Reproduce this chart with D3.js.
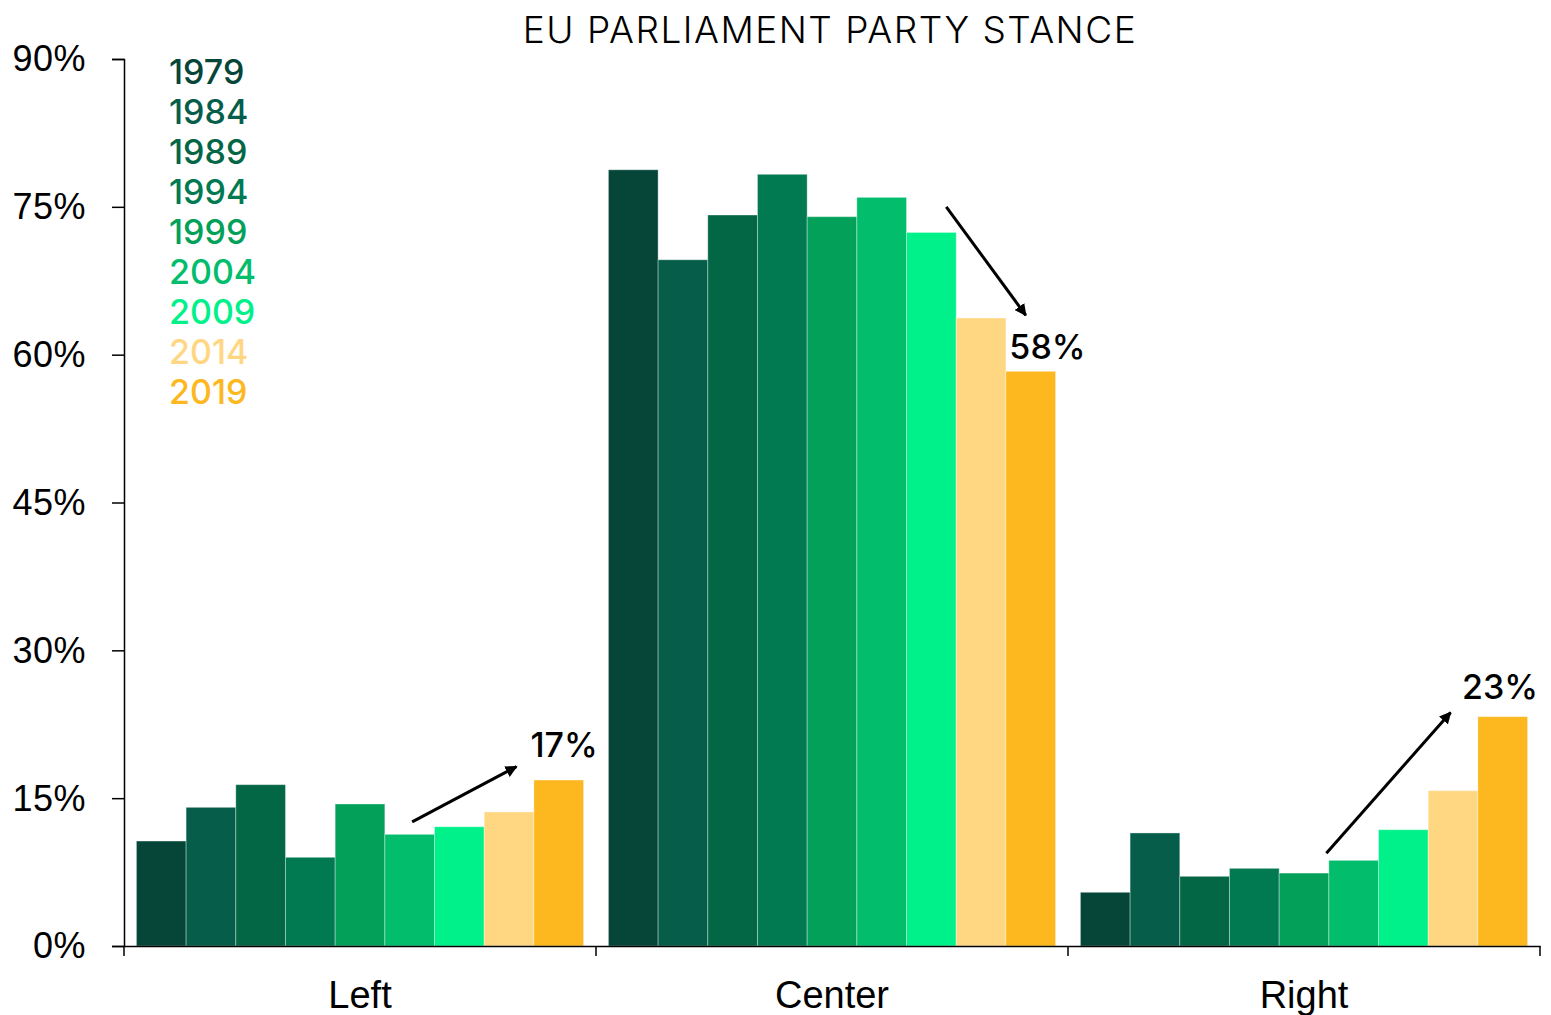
<!DOCTYPE html>
<html>
<head>
<meta charset="utf-8">
<script src="https://cdn.jsdelivr.net/npm/d3@7/dist/d3.min.js"></script>
<style>
  html, body { margin: 0; padding: 0; background: #fff; }
  svg { display: block; font-family: Inter, "Noto Sans", sans-serif; }
</style>
</head>
<body>
<svg id="chart" width="1551" height="1015"></svg>
<script>
const categories = ["Left", "Center", "Right"];
const years = ["1979", "1984", "1989", "1994", "1999", "2004", "2009", "2014", "2019"];
const leftValues   = [10.65, 14.07, 16.37, 9.0, 14.41, 11.33, 12.1, 13.6, 16.84];
const centerValues = [78.76, 69.63, 74.17, 78.3, 74.0, 75.96, 72.4, 63.72, 58.31];
const rightValues  = [5.45, 11.47, 7.07, 7.88, 7.4, 8.69, 11.8, 15.76, 23.27];
const yearColors = ["#054639", "#065e4a", "#036645", "#017a52", "#03a05a", "#02bd6c", "#00f08a", "#ffd783", "#fdb71f"];
const yTicks = [0, 15, 30, 45, 60, 75, 90];
const annotationLabels = ["17%", "58%", "23%"];
const seriesByCategory = { Left: leftValues, Center: centerValues, Right: rightValues };

const svg = d3.select("#chart");
const margin = { left: 124, right: 11, top: 59, bottom: 69 };
const W = 1551, H = 1015;
const x0 = d3.scaleBand().domain(categories).range([margin.left, W - margin.right]).padding(0);
const x1 = d3.scaleBand().domain(years).range([0, x0.bandwidth()]).paddingInner(0).paddingOuter(0.25);
const y = d3.scaleLinear().domain([0, 90]).range([H - margin.bottom, margin.top]);
const color = d3.scaleOrdinal().domain(years).range(yearColors);

// bars
const groups = svg.append("g").selectAll("g").data(categories).join("g")
  .attr("transform", d => `translate(${x0(d)},0)`);
groups.selectAll("rect")
  .data(c => years.map((yr, i) => ({ yr, v: seriesByCategory[c][i] })))
  .join("rect")
  .attr("x", d => x1(d.yr))
  .attr("y", d => y(d.v))
  .attr("width", x1.bandwidth())
  .attr("height", d => y(0) - y(d.v))
  .attr("fill", d => color(d.yr))
  .attr("stroke", "rgba(255,255,255,0.35)")
  .attr("stroke-width", 1);

// y axis
const yAxis = d3.axisLeft(y).tickValues(yTicks).tickFormat(d => d + "%").tickSize(12).tickPadding(26);
const gy = svg.append("g").attr("transform", `translate(${margin.left},0)`).call(yAxis);
gy.select(".domain").attr("stroke", "#000").attr("stroke-width", 1.5);
gy.selectAll(".tick line").attr("stroke", "#000").attr("stroke-width", 1.5);
gy.selectAll(".tick text").attr("font-size", 36).attr("font-weight", 300).attr("fill", "#000")
  .attr("dy", "0.33em").attr("letter-spacing", 0.5);

// x axis
const xAxis = d3.axisBottom(x0).tickSize(0).tickPadding(35);
const gx = svg.append("g").attr("transform", `translate(0,${y(0)})`).call(xAxis);
gx.select(".domain").attr("stroke", "#000").attr("stroke-width", 1.5);
gx.selectAll(".tick text").attr("font-size", 38).attr("font-weight", 300).attr("fill", "#000");
const edges = categories.map(c => x0(c)).concat([x0(categories[categories.length - 1]) + x0.bandwidth()]);
gx.selectAll(".edge").data(edges).join("line").attr("class", "edge")
  .attr("x1", d => d).attr("x2", d => d).attr("y1", 0).attr("y2", 10)
  .attr("stroke", "#000").attr("stroke-width", 1.5);

// title
svg.append("text").attr("x", (margin.left + W - margin.right) / 2 - 2).attr("y", 43)
  .attr("text-anchor", "middle").attr("font-size", 37).attr("font-weight", 300)
  .attr("letter-spacing", 1.5)
  .attr("fill", "#000").text("EU PARLIAMENT PARTY STANCE");

// legend
svg.append("g").selectAll("text").data(years).join("text")
  .attr("x", 169).attr("y", (d, i) => 84 + i * 40)
  .attr("font-size", 34).attr("font-weight", 500)
  .attr("fill", d => color(d)).text(d => d);

// annotations
const defs = svg.append("defs");
defs.append("marker").attr("id", "arrow").attr("viewBox", "0 0 10 10")
  .attr("refX", 9).attr("refY", 5).attr("markerWidth", 4).attr("markerHeight", 4)
  .attr("orient", "auto").append("path").attr("d", "M0,0 L10,5 L0,10 Z").attr("fill", "#000");

const annDefs = [
  { c: "Left",   fromYear: "2004", fromOff: 0.55, fromV: 12.6, toYear: "2014", toOff: 0.65, toV: 18.2, labYear: "2019", labOff: -0.07, labV: 19.2 },
  { c: "Center", fromYear: "2014", fromOff: -0.2, fromV: 75.0, toYear: "2019", toOff: 0.4,  toV: 64.0, labYear: "2019", labOff: 0.07, labV: 59.6 },
  { c: "Right",  fromYear: "2004", fromOff: -0.05, fromV: 9.4, toYear: "2014", toOff: 0.45, toV: 23.7, labYear: "2019", labOff: -0.32, labV: 25.1 }
];
const px = (c, yr, off) => x0(c) + x1(yr) + off * x1.bandwidth();
const ag = svg.append("g");
annDefs.forEach((a, i) => {
  ag.append("line")
    .attr("x1", px(a.c, a.fromYear, a.fromOff)).attr("y1", y(a.fromV))
    .attr("x2", px(a.c, a.toYear, a.toOff)).attr("y2", y(a.toV))
    .attr("stroke", "#000").attr("stroke-width", 3).attr("marker-end", "url(#arrow)");
  ag.append("text")
    .attr("x", px(a.c, a.labYear, a.labOff)).attr("y", y(a.labV))
    .attr("font-size", 34).attr("font-weight", 500).attr("fill", "#000").text(annotationLabels[i]);
});
</script>
</body>
</html>
